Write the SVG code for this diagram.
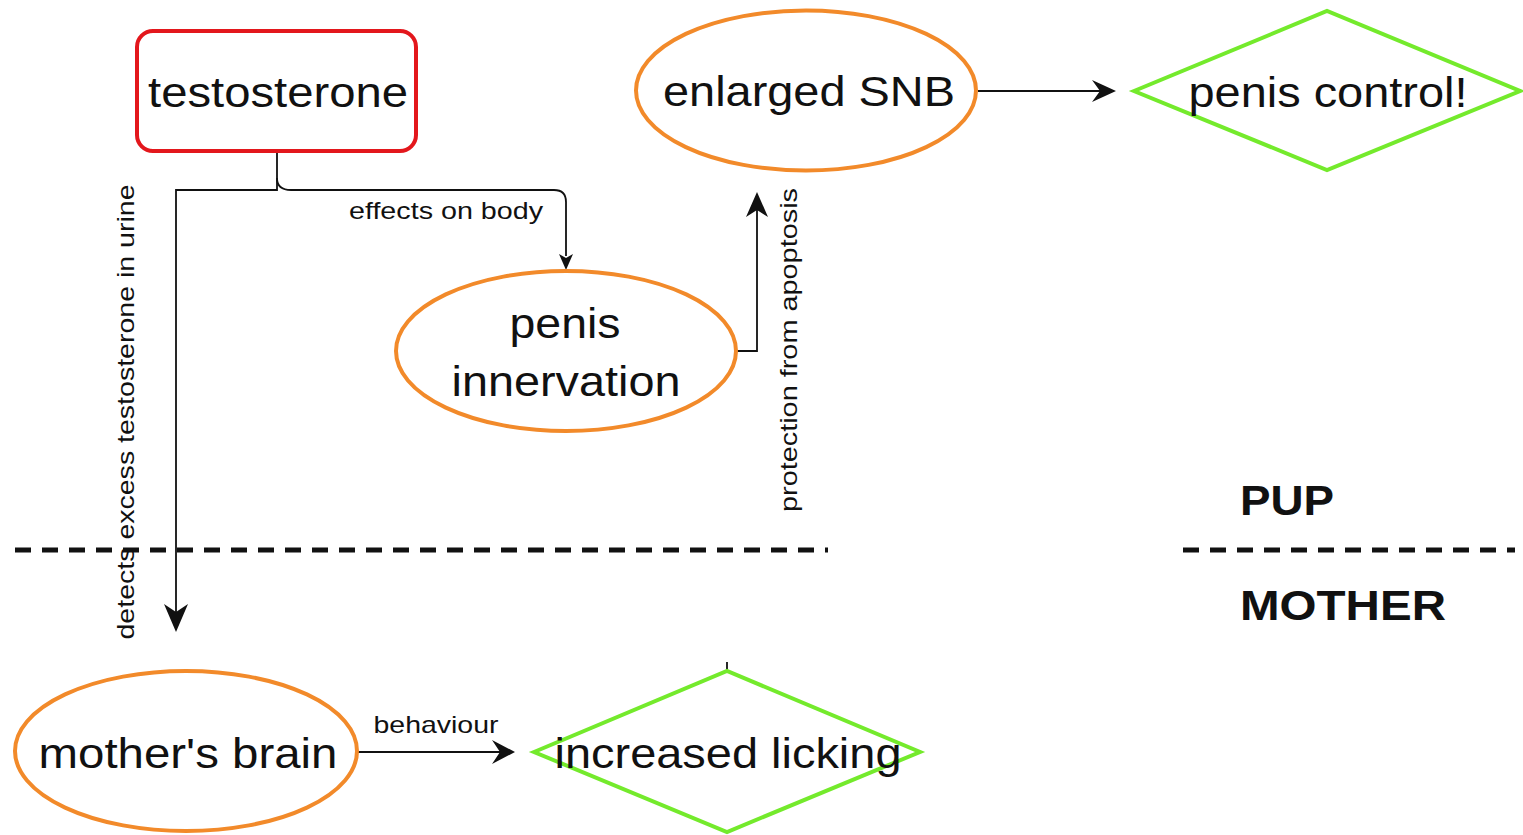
<svg xmlns="http://www.w3.org/2000/svg" width="1523" height="835" viewBox="0 0 1523 835">
<style>
text{font-family:"Liberation Sans",Arial,sans-serif;fill:#111}
.big{font-size:42px}
.small{font-size:24px}
.bold{font-size:42px;font-weight:bold}
.red{fill:#fff;stroke:#e3171c;stroke-width:4}
.orange{fill:#fff;stroke:#f28a2a;stroke-width:4}
.green{fill:#fff;stroke:#74ea2c;stroke-width:4}
.line{fill:none;stroke:#111;stroke-width:1.8}
.head{fill:#111}
.dash{stroke:#111;stroke-width:5;stroke-dasharray:16 11}
</style>
<rect width="1523" height="835" fill="#fff"/>
<g id="separator">
<line class="dash" x1="15" y1="550" x2="828" y2="550"/>
<line class="dash" x1="1183" y1="550" x2="1515" y2="550"/>
<text class="bold" x="1240" y="515" textLength="94" lengthAdjust="spacingAndGlyphs">PUP</text>
<text class="bold" x="1240" y="620" textLength="206" lengthAdjust="spacingAndGlyphs">MOTHER</text>
</g>
<g id="connectors">
<path class="line" d="M277 151 V190 H176 V612"/>
<polygon class="head" points="176,632 164,604 176,612 188,604"/>
<path class="line" d="M277 178 Q277 190 291 190 H554 Q566 190 566 202 V256"/>
<polygon class="head" points="566,270 559,254 566,258 573,254"/>
<path class="line" d="M737 351 H757 V210"/>
<polygon class="head" points="757,192 746,217 757,210 768,217"/>
<path class="line" d="M978 91 H1100"/>
<polygon class="head" points="1116,91 1092,80 1100,91 1092,102"/>
<path class="line" d="M358 752 H500"/>
<polygon class="head" points="515,752 492,740 500,752 492,764"/>
<line class="line" x1="727" y1="662" x2="727" y2="670"/>
<text class="small" x="446" y="219" text-anchor="middle" textLength="194" lengthAdjust="spacingAndGlyphs">effects on body</text>
<text class="small" x="436" y="733" text-anchor="middle" textLength="125" lengthAdjust="spacingAndGlyphs">behaviour</text>
<text class="small" transform="translate(134 412) rotate(-90)" text-anchor="middle" textLength="455" lengthAdjust="spacingAndGlyphs">detects excess testosterone in urine</text>
<text class="small" transform="translate(797 350) rotate(-90)" text-anchor="middle" textLength="324" lengthAdjust="spacingAndGlyphs">protection from apoptosis</text>
</g>
<g id="testosterone">
<rect class="red" x="137" y="31" width="279" height="120" rx="16"/>
<text class="big" x="278" y="107" text-anchor="middle" textLength="260" lengthAdjust="spacingAndGlyphs">testosterone</text>
</g>
<g id="enlarged-snb">
<ellipse class="orange" cx="806" cy="90.5" rx="170" ry="80"/>
<text class="big" x="809" y="106" text-anchor="middle" textLength="292" lengthAdjust="spacingAndGlyphs">enlarged SNB</text>
</g>
<g id="penis-control">
<polygon class="green" points="1134,91 1327,11 1520,91 1327,170"/>
<text class="big" x="1328" y="107" text-anchor="middle" textLength="279" lengthAdjust="spacingAndGlyphs">penis control!</text>
</g>
<g id="penis-innervation">
<ellipse class="orange" cx="566" cy="351" rx="170" ry="80"/>
<text class="big" x="565" y="338" text-anchor="middle" textLength="111" lengthAdjust="spacingAndGlyphs">penis</text>
<text class="big" x="566" y="396" text-anchor="middle" textLength="229" lengthAdjust="spacingAndGlyphs">innervation</text>
</g>
<g id="mothers-brain">
<ellipse class="orange" cx="186" cy="751" rx="171" ry="80"/>
<text class="big" x="188" y="768" text-anchor="middle" textLength="299" lengthAdjust="spacingAndGlyphs">mother's brain</text>
</g>
<g id="increased-licking">
<polygon class="green" points="534,752 727,671 920,752 727,832"/>
<text class="big" x="728" y="768" text-anchor="middle" textLength="347" lengthAdjust="spacingAndGlyphs">increased licking</text>
</g>
</svg>
